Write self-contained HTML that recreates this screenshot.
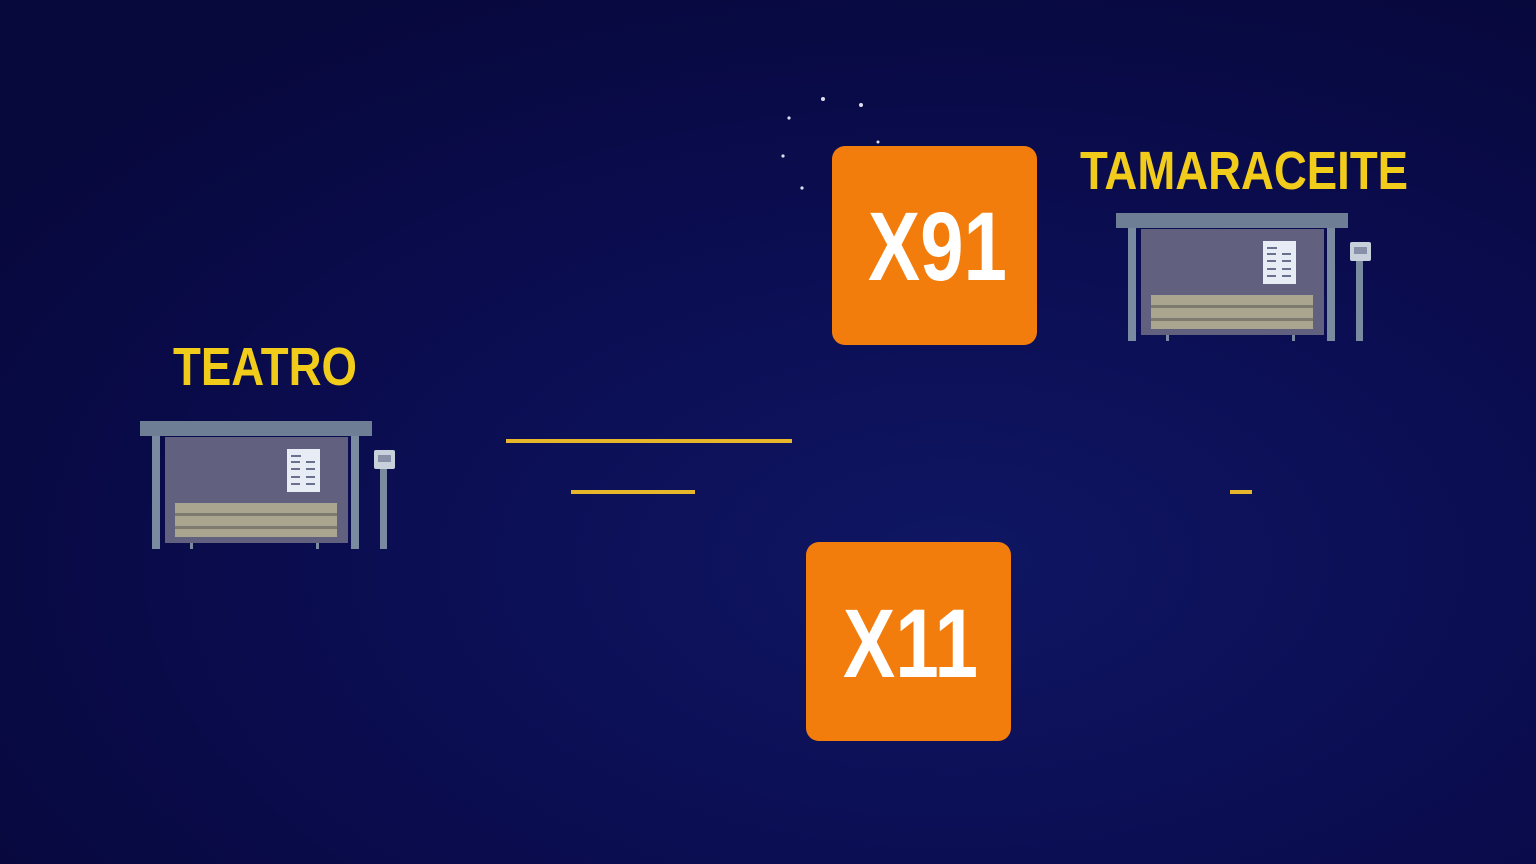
<!DOCTYPE html><html><head><style>html,body{margin:0;padding:0;background:#0a0a48}svg{display:block}</style></head><body>
<svg width="1536" height="864" viewBox="0 0 1536 864" xmlns="http://www.w3.org/2000/svg">
<defs>
<radialGradient id="bg" cx="0.62" cy="0.65" r="0.75">
<stop offset="0" stop-color="#0f1663"/><stop offset="0.6" stop-color="#0a0c4e"/><stop offset="1" stop-color="#07083c"/></radialGradient>
<g id="sh">
<rect x="140" y="421" width="232" height="15" fill="#6e7e94"/>
<rect x="165" y="437" width="183" height="106" fill="#62607f"/>
<rect x="152" y="436" width="8" height="113" fill="#7a8aa0"/>
<rect x="351" y="436" width="8" height="113" fill="#7a8aa0"/>
<rect x="175" y="503" width="162" height="34" fill="#a9a58e"/>
<rect x="175" y="513" width="162" height="3" fill="#7d7a70"/>
<rect x="175" y="526" width="162" height="3" fill="#7d7a70"/>
<rect x="287" y="449" width="33" height="43" fill="#e8ecf4"/>
<g fill="#6a7090"><rect x="291" y="455" width="10" height="2"/><rect x="291" y="461" width="9" height="2"/><rect x="306" y="461" width="9" height="2"/><rect x="291" y="468" width="9" height="2"/><rect x="306" y="468" width="9" height="2"/><rect x="291" y="476" width="9" height="2"/><rect x="306" y="476" width="9" height="2"/><rect x="291" y="483" width="9" height="2"/><rect x="306" y="483" width="9" height="2"/></g>
<rect x="190" y="543" width="3" height="6" fill="#7a8aa0"/><rect x="316" y="543" width="3" height="6" fill="#7a8aa0"/>
<rect x="380" y="465" width="7" height="84" fill="#7a8aa0"/>
<rect x="374" y="450" width="21" height="19" rx="2" fill="#c8d0dc"/>
<rect x="378" y="455" width="13" height="7" fill="#8890a8"/>
</g>
</defs>
<rect width="1536" height="864" fill="url(#bg)"/>
<use href="#sh"/>
<use href="#sh" transform="translate(976,-208)"/>
<g font-family="Liberation Sans, sans-serif" font-weight="bold">
<text x="173" y="385" font-size="54" fill="#f2cc1a" textLength="184" lengthAdjust="spacingAndGlyphs">TEATRO</text>
<text x="1080" y="189" font-size="54" fill="#f2cc1a" textLength="328" lengthAdjust="spacingAndGlyphs">TAMARACEITE</text>
<rect x="832" y="146" width="205" height="199" rx="13" fill="#f27d0c"/>
<text x="868" y="280" font-size="97" fill="#fff" textLength="139" lengthAdjust="spacingAndGlyphs">X91</text>
<rect x="806" y="542" width="205" height="199" rx="13" fill="#f27d0c"/>
<text x="843" y="677" font-size="97" fill="#fff" textLength="135" lengthAdjust="spacingAndGlyphs">X11</text>
</g>
<g fill="#e8b62a">
<rect x="506" y="439" width="286" height="4"/>
<rect x="571" y="490" width="124" height="4"/>
<rect x="1230" y="490" width="22" height="4"/>
</g>
<g fill="#dde">
<circle cx="823" cy="99" r="2"/><circle cx="861" cy="105" r="2"/><circle cx="789" cy="118" r="1.6"/><circle cx="783" cy="156" r="1.6"/><circle cx="802" cy="188" r="1.6"/><circle cx="878" cy="142" r="1.5"/>
</g>
</svg>
</body></html>
